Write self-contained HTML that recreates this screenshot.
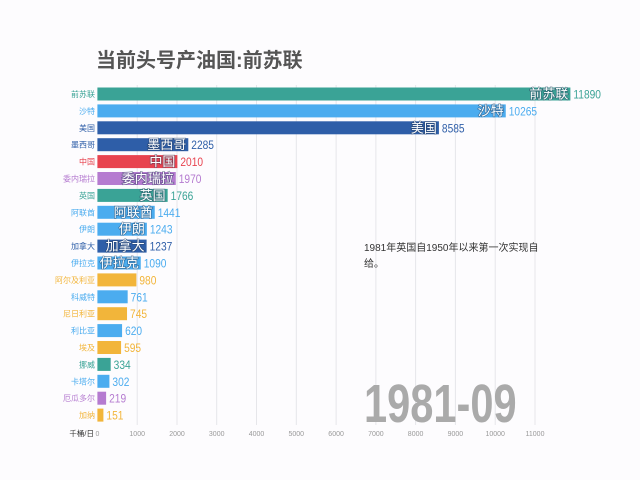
<!DOCTYPE html>
<html><head><meta charset="utf-8"><style>
html,body{margin:0;padding:0;background:#fdfcfe;}
svg{display:block;font-family:"Liberation Sans","Noto Sans CJK SC",sans-serif;}
.bl{font-size:13px;fill:#fff;stroke:rgba(40,60,90,0.5);stroke-width:1.5;paint-order:stroke;text-anchor:end;}
.v{font-size:12px;}
.yl{font-size:8px;text-anchor:end;}
.t{font-size:7px;fill:#999;text-anchor:middle;}
</style></head><body>
<svg width="640" height="480" viewBox="0 0 640 480">
<rect width="640" height="480" fill="#fdfcfe"/>
<text x="96" y="67" font-size="20" font-weight="bold" fill="#555" font-family="'Liberation Sans','Noto Sans CJK SC',sans-serif">当前头号产油国:前苏联</text>
<g stroke="#e6e6ea" stroke-width="1">
<line x1="137.2" y1="85" x2="137.2" y2="425"/><line x1="177" y1="85" x2="177" y2="425"/><line x1="216.7" y1="85" x2="216.7" y2="425"/><line x1="256.5" y1="85" x2="256.5" y2="425"/><line x1="296.3" y1="85" x2="296.3" y2="425"/><line x1="336.1" y1="85" x2="336.1" y2="425"/><line x1="375.9" y1="85" x2="375.9" y2="425"/><line x1="415.6" y1="85" x2="415.6" y2="425"/><line x1="455.4" y1="85" x2="455.4" y2="425"/><line x1="495.2" y1="85" x2="495.2" y2="425"/><line x1="535" y1="85" x2="535" y2="425"/>
</g>
<g class="t">
<text x="97.4" y="436">0</text><text x="137.2" y="436">1000</text><text x="177" y="436">2000</text><text x="216.7" y="436">3000</text><text x="256.5" y="436">4000</text><text x="296.3" y="436">5000</text><text x="336.1" y="436">6000</text><text x="375.9" y="436">7000</text><text x="415.6" y="436">8000</text><text x="455.4" y="436">9000</text><text x="495.2" y="436">10000</text><text x="535" y="436">11000</text>
</g>
<text x="94" y="436" font-size="7.5" fill="#333" text-anchor="end">千桶/日</text>
<text x="364" y="251" font-size="10" fill="#333">1981年英国自1950年以来第一次实现自</text>
<text x="364" y="267" font-size="10" fill="#333">给。</text>
<text x="0" y="0" font-size="54" font-weight="bold" fill="#aaa" transform="translate(364,422) scale(0.77,1)" font-family="'Liberation Sans',sans-serif">1981-09</text>
<g id="bars"></g>
</svg>
<script>
var d=[["前苏联",11890,"#3aa396"],["沙特",10265,"#4bacef"],["美国",8585,"#2e5ea8"],["墨西哥",2285,"#2e5ea8"],["中国",2010,"#e8434f"],["委内瑞拉",1970,"#b57bd0"],["英国",1766,"#3aa396"],["阿联酋",1441,"#4bacef"],["伊朗",1243,"#4bacef"],["加拿大",1237,"#2e5ea8"],["伊拉克",1090,"#4bacef"],["阿尔及利亚",980,"#f2b53a"],["科威特",761,"#4bacef"],["尼日利亚",745,"#f2b53a"],["利比亚",620,"#4bacef"],["埃及",595,"#f2b53a"],["挪威",334,"#3aa396"],["卡塔尔",302,"#4bacef"],["厄瓜多尔",219,"#b57bd0"],["加纳",151,"#f2b53a"]];
var g=document.getElementById("bars"),s="";
d.forEach(function(r,i){var y=94+i*16.9,w=r[1]*0.03978,x=97.4+w;
s+='<rect x="97.4" y="'+(y-6.5)+'" width="'+w+'" height="13" fill="'+r[2]+'"/>';
s+='<text class="yl" x="95" y="'+(y+3)+'" fill="'+r[2]+'">'+r[0]+'</text>';
if(w>40)s+='<text class="bl" x="'+(x-2)+'" y="'+(y+4.5)+'">'+r[0]+'</text>';
s+='<text class="v" transform="translate('+(x+3)+','+(y+4.5)+') scale(0.85,1)" fill="'+r[2]+'">'+r[1]+'</text>';});
g.innerHTML=s;
</script>
</body></html>
